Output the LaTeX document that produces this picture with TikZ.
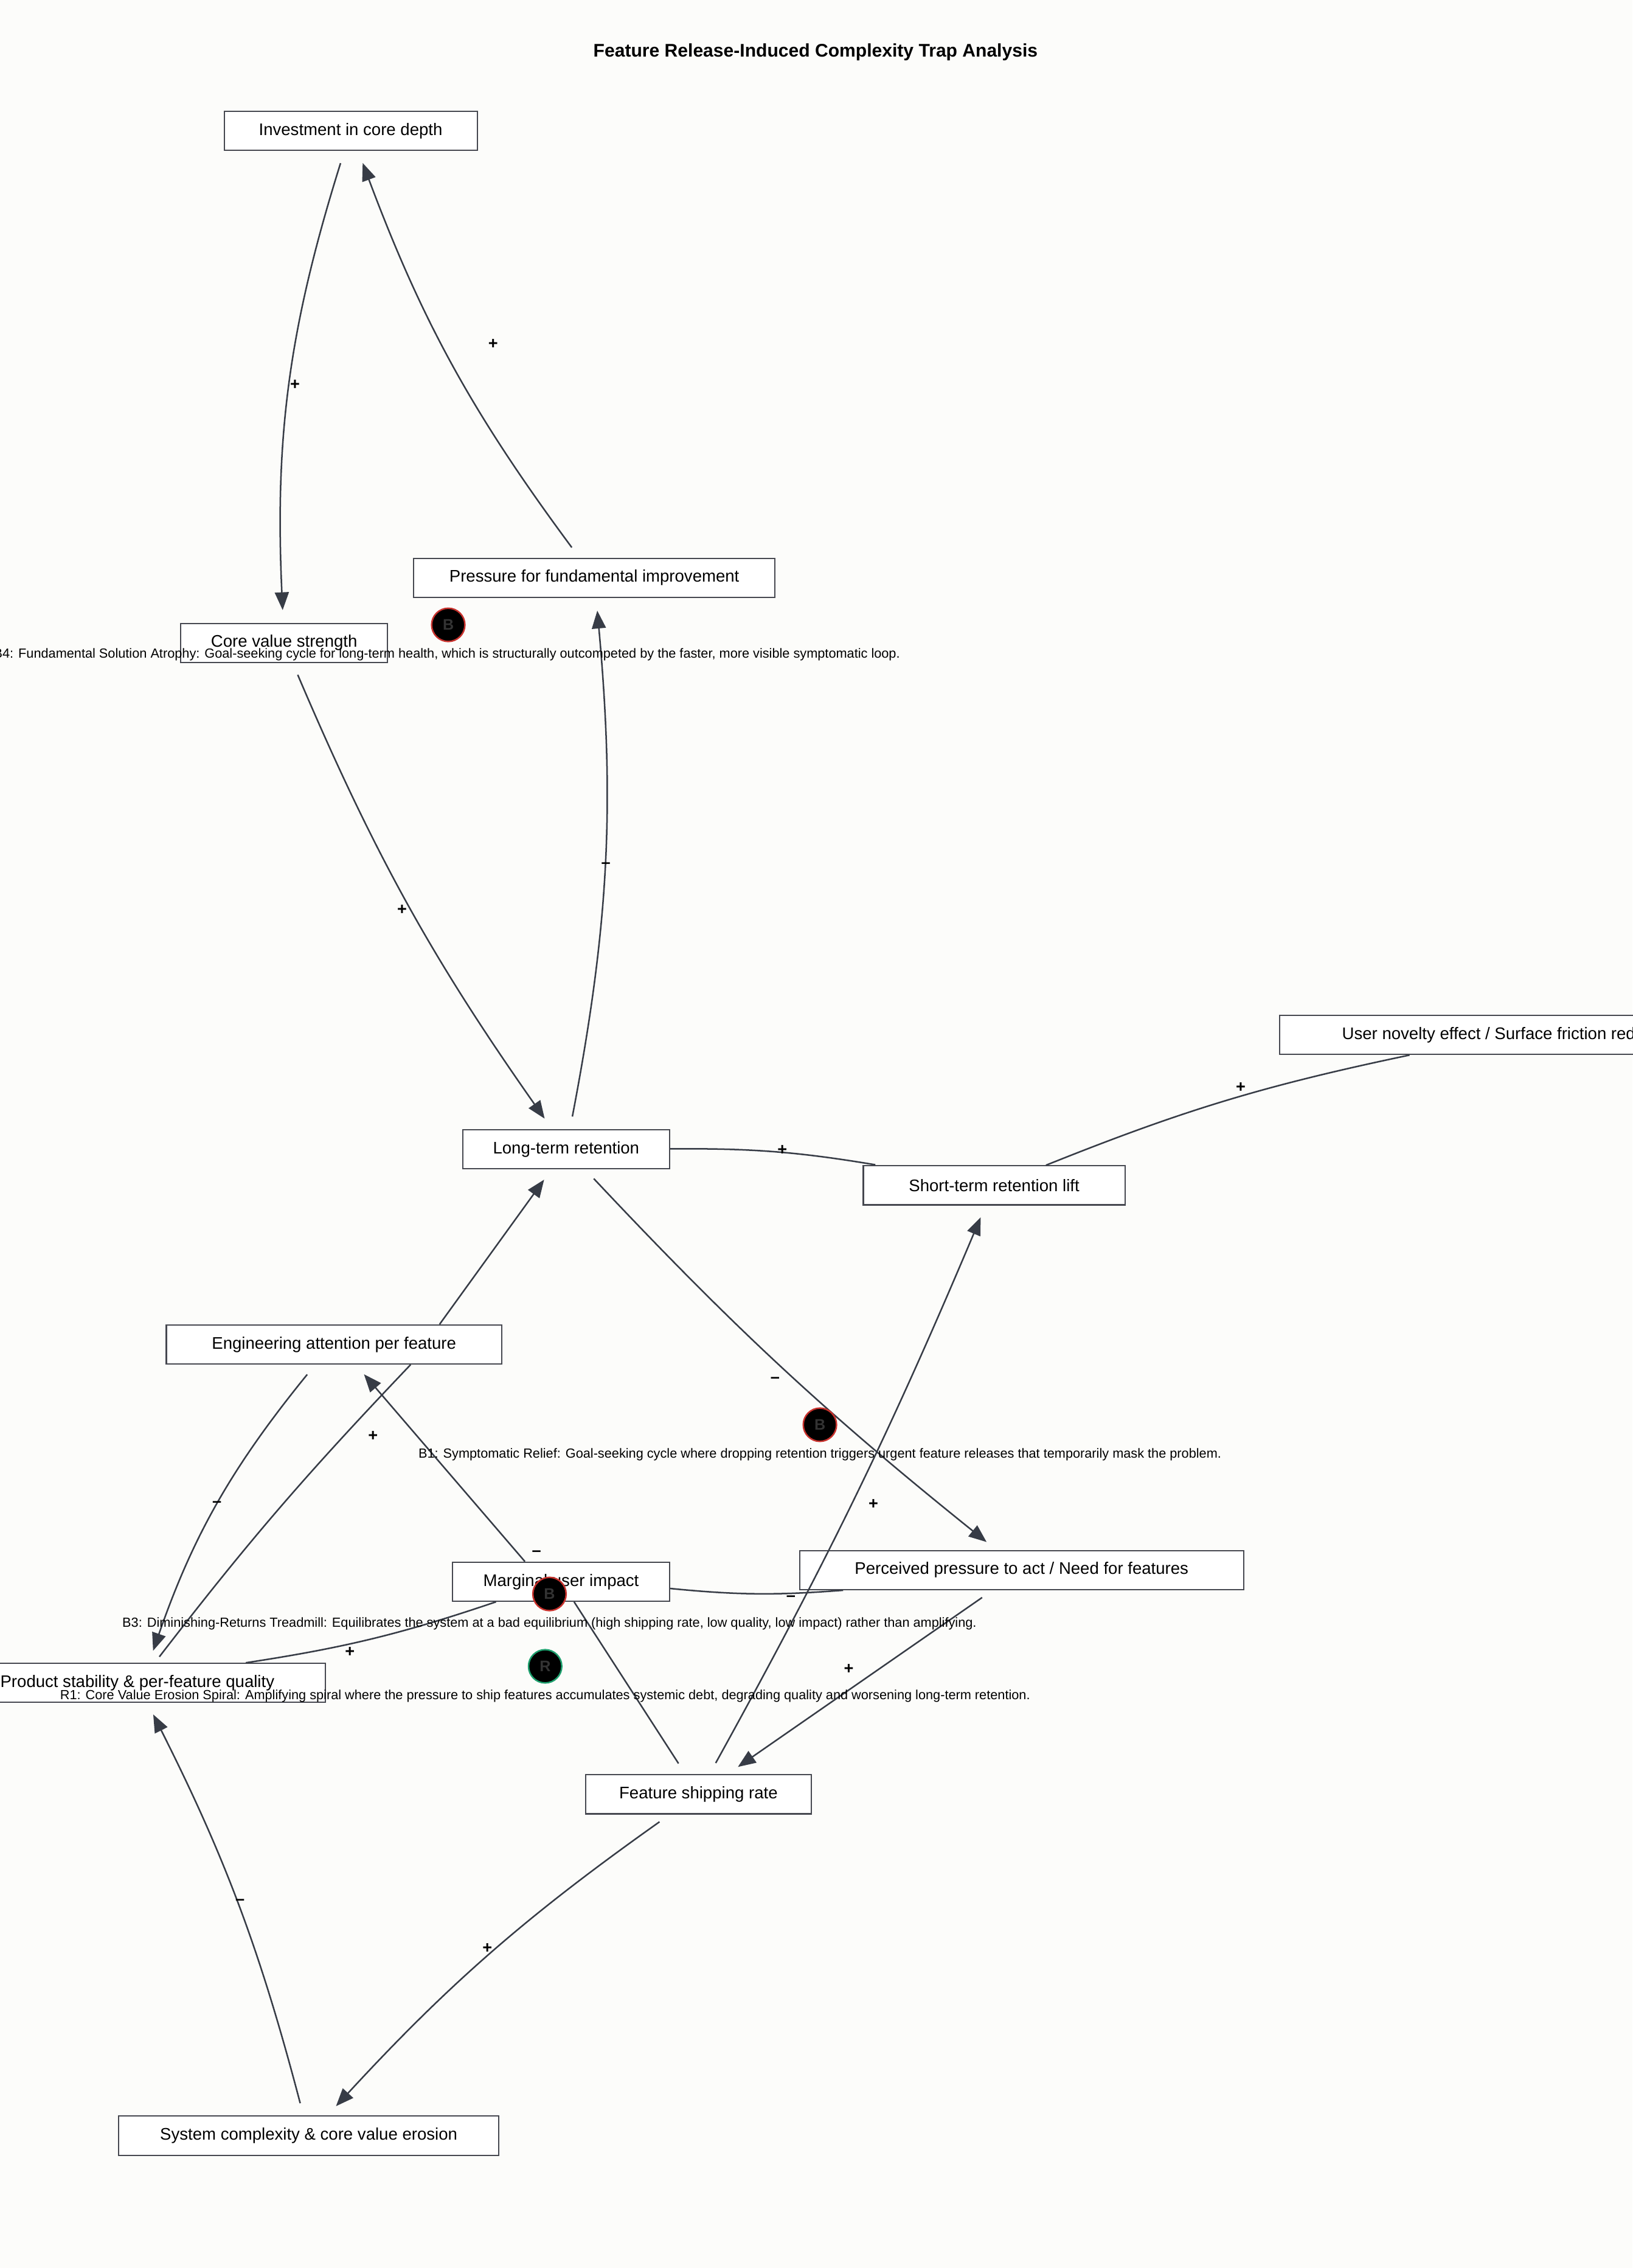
\documentclass[tikz,border=0pt]{standalone}
\usepackage{fontspec}
\setmainfont{Liberation Sans}
\usetikzlibrary{arrows.meta}
\definecolor{cldBack}{RGB}{252, 252, 250}
\definecolor{cldEdge}{RGB}{55, 60, 70}
\definecolor{cldBox}{RGB}{70, 72, 80}
\definecolor{cldRed}{RGB}{200, 50, 45}
\definecolor{cldGreen}{RGB}{30, 160, 110}
\tikzset{
    var/.style={
        rectangle,
        draw=cldBox,
        fill=white,
        line width=0.5pt,
        font=\fontsize{6.6}{8}\selectfont,
        minimum height=0.54cm,
        inner sep=1pt
    },
    link/.style={
        -{Triangle[length=7pt,width=5.5pt]},
        color=cldEdge,
        line width=0.6pt,
        shorten >=5pt,
        shorten <=5pt
    },
    plain/.style={
        color=cldEdge,
        line width=0.6pt
    },
    sign/.style={
        font=\bfseries\fontsize{6.5}{7}\selectfont,
        inner sep=0pt
    },
    loop/.style={
        circle,
        fill=black,
        line width=0.6pt,
        minimum size=0.46cm,
        inner sep=0pt,
        font=\bfseries\fontsize{6}{7}\selectfont,
        text=black!80!white
    },
    note/.style={
        font=\fontsize{5.2}{6}\selectfont,
        inner sep=0pt
    }
}
\begin{document}
\begin{tikzpicture}[x=0.02cm, y=0.02cm]
  \useasboundingbox (0,0) rectangle (1129,-1568);
  \fill[cldBack] (0,0) rectangle (1129,-1568);

  \node[font=\bfseries\fontsize{7.2}{9}\selectfont] (title) at (564,-36) {Feature Release-Induced Complexity Trap Analysis};

  % Variables
  \node[var, minimum width=3.5cm] (inv) at (242.5,-90.5) {Investment in core depth};
  \node[var, minimum width=5cm] (press) at (411,-399.5) {Pressure for fundamental improvement};
  \node[var, minimum width=2.86cm] (core) at (196.5,-444.5) {Core value strength};
  \node[var, minimum width=2.86cm] (ltr) at (391.5,-794.5) {Long-term retention};
  \node[var, minimum width=3.62cm] (str) at (687.5,-819.5) {Short-term retention lift};
  \node[var, minimum width=6.4cm] (nov) at (1045,-715.5) {User novelty effect / Surface friction reduction};
  \node[var, minimum width=4.64cm] (eng) at (231,-929.5) {Engineering attention per feature};
  \node[var, minimum width=3cm] (marg) at (388,-1093.5) {Marginal user impact};
  \node[var, minimum width=6.14cm] (perc) at (706.5,-1085.5) {Perceived pressure to act / Need for features};
  \node[var, minimum width=5.2cm] (prod) at (95,-1163.5) {Product stability \& per-feature quality};
  \node[var, minimum width=3.12cm] (ship) at (483,-1240.5) {Feature shipping rate};
  \node[var, minimum width=5.26cm] (sys) at (213.5,-1476.5) {System complexity \& core value erosion};

  % Links
  \draw[link] (inv) to[bend right=10] (core);
  \draw[link] (press) to[bend left=8] (inv);
  \draw[link] (core) to[bend right=6] (ltr);
  \draw[link] (ltr) to[bend right=8] (press);
  \draw[link] (ltr) to[bend right=4] (perc);
  \draw[plain, shorten <=1pt] (str) to[bend right=5] (ltr);
  \draw[plain] (nov) to[bend right=5] (str);
  \draw[link, shorten <=0pt] ([xshift=1.46cm]eng.north) -- (ltr);
  \draw[link] ([xshift=-0.26cm]eng.south) to[bend right=10] ([xshift=0.16cm]prod.north);
  \draw[plain, shorten <=3pt] ([xshift=0.24cm]prod.north) to[bend left=3] ([xshift=1.06cm]eng.south);
  \draw[link, shorten <=0pt] ([xshift=-0.5cm]marg.north) -- ([xshift=0.3cm]eng.south);
  \draw[plain] (perc) to[bend left=5] (marg);
  \draw[plain] ([xshift=1.5cm]prod.north) to[bend right=5] ([xshift=-0.9cm]marg.south);
  \draw[plain, shorten <=5pt] (ship) -- (marg);
  \draw[link] (ship) to[bend right=3] (str);
  \draw[link] (perc) -- (ship);
  \draw[link] (ship) to[bend right=6] (sys);
  \draw[link] (sys) to[bend right=6] (prod);

  % Polarities
  \node[sign] (s1) at (204,-266) {+};
  \node[sign] (s2) at (341,-238) {+};
  \node[sign] (s3) at (278,-629) {+};
  \node[sign] (s4) at (419,-598) {--};
  \node[sign] (s5) at (536,-954) {--};
  \node[sign] (s6) at (541,-795) {+};
  \node[sign] (s7) at (858,-752) {+};
  \node[sign] (s8) at (150,-1040) {--};
  \node[sign] (s9) at (258,-993) {+};
  \node[sign] (s10) at (371,-1074) {--};
  \node[sign] (s11) at (547,-1105) {--};
  \node[sign] (s12) at (242,-1142) {+};
  \node[sign] (s13) at (604,-1040) {+};
  \node[sign] (s14) at (587,-1154) {+};
  \node[sign] (s15) at (337,-1347) {+};
  \node[sign] (s16) at (166,-1315) {--};

  % Loops
  \node[loop, draw=cldRed] (b4) at (310,-432) {B};
  \node[note] (b4t) at (309,-452.5) {B4: Fundamental Solution Atrophy: Goal-seeking cycle for long-term health, which is structurally outcompeted by the faster, more visible symptomatic loop.};
  \node[loop, draw=cldRed] (b1) at (567,-985) {B};
  \node[note] (b1t) at (567,-1005.5) {B1: Symptomatic Relief: Goal-seeking cycle where dropping retention triggers urgent feature releases that temporarily mask the problem.};
  \node[loop, draw=cldRed] (b3) at (380,-1102) {B};
  \node[note] (b3t) at (380,-1122.5) {B3: Diminishing-Returns Treadmill: Equilibrates the system at a bad equilibrium (high shipping rate, low quality, low impact) rather than amplifying.};
  \node[loop, draw=cldGreen] (r1) at (377,-1152) {R};
  \node[note] (r1t) at (377,-1172.5) {R1: Core Value Erosion Spiral: Amplifying spiral where the pressure to ship features accumulates systemic debt, degrading quality and worsening long-term retention.};
\end{tikzpicture}
\end{document}
